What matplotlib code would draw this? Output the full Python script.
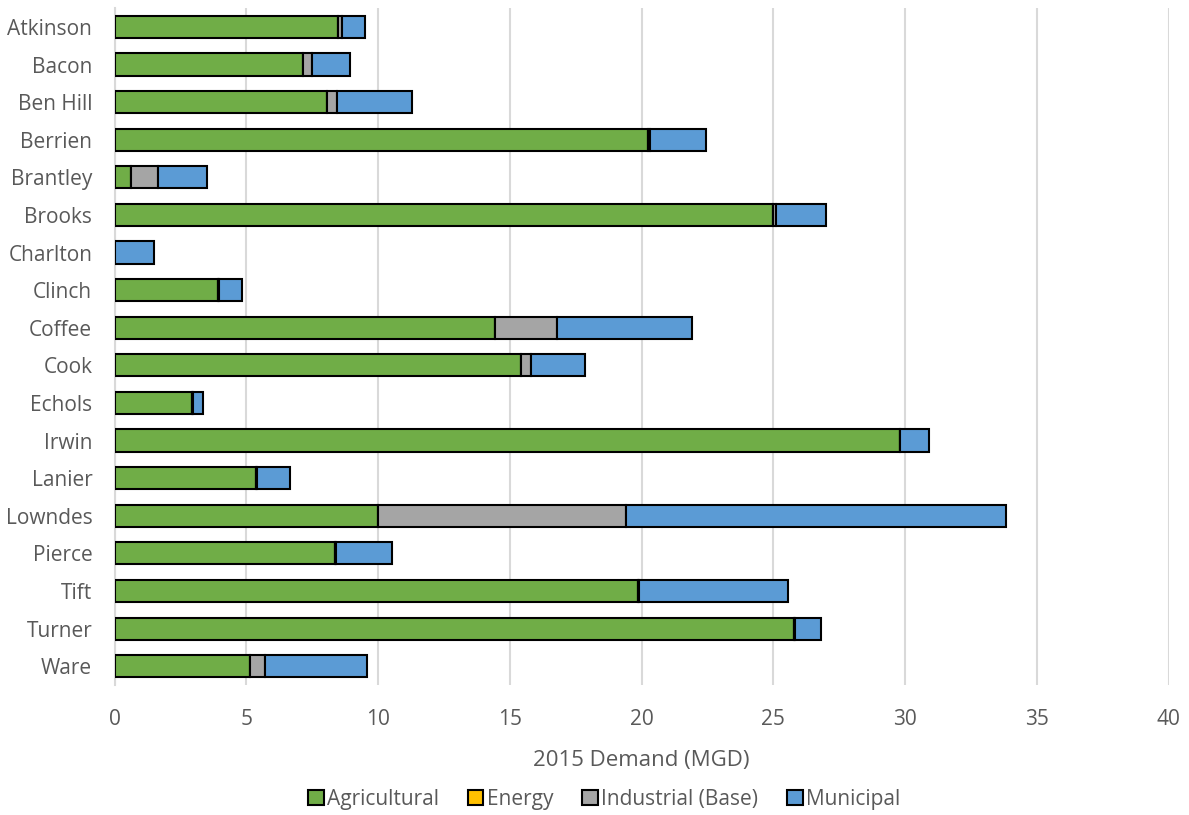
import matplotlib
matplotlib.use("Agg")
import matplotlib.pyplot as plt
import numpy as np

counties = ["Atkinson", "Bacon", "Ben Hill", "Berrien", "Brantley", "Brooks", "Charlton",
            "Clinch", "Coffee", "Cook", "Echols", "Irwin", "Lanier", "Lowndes", "Pierce",
            "Tift", "Turner", "Ware"]
agricultural = [8.47, 7.15, 8.07, 20.25, 0.64, 24.99, 0.0, 3.91, 14.45, 15.42, 2.93, 29.79,
                5.37, 9.98, 8.37, 19.88, 25.79, 5.13]
energy = [0.0] * 18
industrial = [0.16, 0.34, 0.36, 0.05, 1.02, 0.11, 0.0, 0.05, 2.35, 0.39, 0.03, 0.02,
              0.02, 9.44, 0.03, 0.02, 0.02, 0.59]
municipal = [0.89, 1.44, 2.84, 2.14, 1.84, 1.88, 1.51, 0.86, 5.10, 2.04, 0.38, 1.10,
             1.25, 14.42, 2.13, 5.66, 1.00, 3.87]

series = [("Agricultural", agricultural, "#70AD47"),
          ("Energy", energy, "#FFC000"),
          ("Industrial (Base)", industrial, "#A5A5A5"),
          ("Municipal", municipal, "#5B9BD5")]

plt.rcParams['font.family'] = ['Open Sans', 'DejaVu Sans']
fig = plt.figure(figsize=(11.89, 8.15), dpi=100)
ax = fig.add_axes([0.0963, 0.1595, 0.983 - 0.0963, 0.990 - 0.1595])

y = np.arange(len(counties))
left = np.zeros(len(counties))
handles = []
for name, vals, color in series:
    vals = np.array(vals)
    b = ax.barh(y, vals, left=left, height=0.59, color=color, edgecolor="black",
                linewidth=1.5, label=name, zorder=3)
    left = left + vals
    handles.append(b)

ax.set_xlim(0, 40)
ax.set_ylim(len(counties) - 0.5, -0.5)
ax.set_xticks(np.arange(0, 41, 5))
ax.set_yticks(y)
ax.set_yticklabels(counties)
ax.tick_params(axis="both", length=0, labelsize=15, colors="#595959")
ax.tick_params(axis="x", pad=17)
ax.tick_params(axis="y", pad=16)
ax.xaxis.grid(True, color="#D9D9D9", linewidth=1.5, zorder=0)
ax.set_axisbelow(True)
for s in ["top", "right", "bottom"]:
    ax.spines[s].set_visible(False)
ax.spines["left"].set_color("#D9D9D9")
ax.spines["left"].set_linewidth(1.5)
ax.set_xlabel("2015 Demand (MGD)", fontsize=16, color="#595959", labelpad=15)

leg = fig.legend(handles=handles, labels=[s[0] for s in series], loc="center",
                 bbox_to_anchor=(0.508, 0.019), ncol=4, frameon=False, fontsize=15,
                 handlelength=0.75, handleheight=0.75, handletextpad=0.15, columnspacing=1.4)
for t in leg.get_texts():
    t.set_color("#595959")

fig.savefig("out.png", dpi=100)
